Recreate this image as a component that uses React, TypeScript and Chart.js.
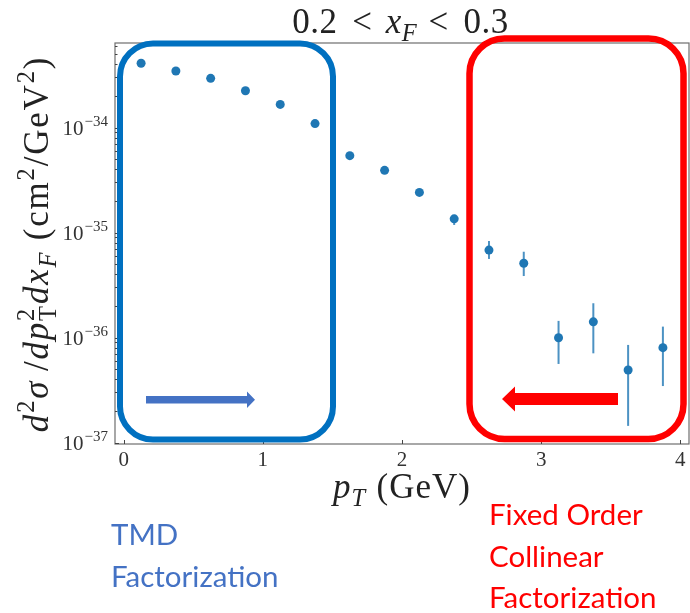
import React, { useEffect, useRef } from "react";
import { Chart, registerables } from "chart.js";

Chart.register(...registerables);

// ---- data ----
const pT = [0.125, 0.375, 0.625, 0.875, 1.125, 1.375, 1.625, 1.875, 2.125, 2.375, 2.625, 2.875, 3.125, 3.375, 3.625, 3.875];
const crossSection = [4.09e-34, 3.45e-34, 2.94e-34, 2.24e-34, 1.66e-34, 1.09e-34, 5.39e-35, 3.91e-35, 2.41e-35, 1.35e-35, 6.8e-36, 5.09e-36, 9.95e-37, 1.41e-36, 4.9e-37, 8.0e-37];
const errLower = [4.02e-34, 3.39e-34, 2.89e-34, 2.2e-34, 1.63e-34, 1.07e-34, 5.25e-35, 3.8e-35, 2.33e-35, 1.18e-35, 5.6e-36, 3.85e-36, 5.6e-37, 7.07e-37, 1.44e-37, 3.45e-37];
const errUpper = [4.16e-34, 3.51e-34, 2.99e-34, 2.28e-34, 1.69e-34, 1.11e-34, 5.53e-35, 4.02e-35, 2.49e-35, 1.47e-35, 8.3e-36, 6.56e-36, 1.44e-36, 2.12e-36, 8.5e-37, 1.27e-36];
const xTickValues = [0, 1, 2, 3, 4];
const yTickExponents = [-34, -35, -36, -37];
const leftLabelLines = ["TMD", "Factorization"];
const rightLabelLines = ["Fixed Order", "Collinear", "Factorization"];

const SERIF = '"Liberation Serif", "DejaVu Serif", serif';
const SANS = 'Lato, "Open Sans", "Noto Sans", sans-serif';
const POINT_COLOR = "#1f77b4";

type Seg = { t: string; it?: boolean; sup?: boolean; sub?: boolean; stack?: boolean; gap?: number };

function segFont(size: number, s: Seg) {
  const sz = s.sup || s.sub ? size * 0.7 : size;
  return `${s.it ? "italic " : ""}${sz}px ${SERIF}`;
}

function segWidth(ctx: CanvasRenderingContext2D, s: Seg, size: number, track: number) {
  if (s.gap) return s.gap * size;
  ctx.font = segFont(size, s);
  let w = 0;
  for (const ch of s.t) w += ctx.measureText(ch).width + track;
  return w;
}

function measureMath(ctx: CanvasRenderingContext2D, segs: Seg[], size: number, track: number) {
  let w = 0;
  let pending = 0;
  for (const s of segs) {
    const sw = segWidth(ctx, s, size, track);
    if (s.stack) {
      pending = sw;
    } else {
      w += Math.max(sw, pending);
      pending = 0;
    }
  }
  return w;
}

function drawMath(ctx: CanvasRenderingContext2D, segs: Seg[], size: number, x: number, y: number, color: string, track = 0) {
  const total = measureMath(ctx, segs, size, track);
  let cx = x - total / 2;
  let pending = 0;
  ctx.fillStyle = color;
  ctx.textBaseline = "alphabetic";
  ctx.textAlign = "left";
  for (const s of segs) {
    const sw = segWidth(ctx, s, size, track);
    if (!s.gap) {
      ctx.font = segFont(size, s);
      let dy = 0;
      if (s.sup) dy = -0.4 * size;
      if (s.sub) dy = 0.22 * size;
      let px = cx;
      for (const ch of s.t) {
        ctx.fillText(ch, px, y + dy);
        px += ctx.measureText(ch).width + track;
      }
    }
    if (s.stack) {
      pending = sw;
    } else {
      cx += Math.max(sw, pending);
      pending = 0;
    }
  }
}

function roundRect(ctx: CanvasRenderingContext2D, x0: number, y0: number, x1: number, y1: number, r: number) {
  ctx.beginPath();
  ctx.moveTo(x0 + r, y0);
  ctx.lineTo(x1 - r, y0);
  ctx.arcTo(x1, y0, x1, y0 + r, r);
  ctx.lineTo(x1, y1 - r);
  ctx.arcTo(x1, y1, x1 - r, y1, r);
  ctx.lineTo(x0 + r, y1);
  ctx.arcTo(x0, y1, x0, y1 - r, r);
  ctx.lineTo(x0, y0 + r);
  ctx.arcTo(x0, y0, x0 + r, y0, r);
  ctx.closePath();
}

function arrow(ctx: CanvasRenderingContext2D, tail: number, base: number, tip: number, cy: number, shaftHalf: number, headHalf: number, color: string) {
  ctx.beginPath();
  ctx.moveTo(tail, cy - shaftHalf);
  ctx.lineTo(base, cy - shaftHalf);
  ctx.lineTo(base, cy - headHalf);
  ctx.lineTo(tip, cy);
  ctx.lineTo(base, cy + headHalf);
  ctx.lineTo(base, cy + shaftHalf);
  ctx.lineTo(tail, cy + shaftHalf);
  ctx.closePath();
  ctx.fillStyle = color;
  ctx.fill();
}

const overlayPlugin = {
  id: "overlay",
  beforeDatasetsDraw(chart: any) {
    const { ctx, scales } = chart;
    const xs = scales.x;
    const ys = scales.y;
    ctx.save();
    ctx.strokeStyle = "rgba(31,119,180,0.8)";
    ctx.lineWidth = 2;
    for (let i = 0; i < pT.length; i++) {
      const px = xs.getPixelForValue(pT[i]);
      ctx.beginPath();
      ctx.moveTo(px, ys.getPixelForValue(errLower[i]));
      ctx.lineTo(px, ys.getPixelForValue(errUpper[i]));
      ctx.stroke();
    }
    ctx.restore();
  },
  afterDraw(chart: any) {
    const { ctx, chartArea, scales } = chart;
    const xs = scales.x;
    const ys = scales.y;
    const { left, right, top, bottom } = chartArea;
    ctx.save();

    // frame
    ctx.strokeStyle = "#6e6e6e";
    ctx.lineWidth = 1.2;
    ctx.strokeRect(left, top, right - left, bottom - top);

    // inward ticks
    ctx.strokeStyle = "#444";
    ctx.lineWidth = 1;
    for (const v of xTickValues) {
      const px = Math.round(xs.getPixelForValue(v)) + 0.5;
      ctx.beginPath();
      ctx.moveTo(px, bottom);
      ctx.lineTo(px, bottom - 4);
      ctx.stroke();
    }
    const ymin = ys.min;
    const ymax = ys.max;
    for (let e = -38; e <= -33; e++) {
      for (let m = 1; m <= 9; m++) {
        const v = m * Math.pow(10, e);
        if (v < ymin || v > ymax) continue;
        const py = Math.round(ys.getPixelForValue(v)) + 0.5;
        ctx.beginPath();
        ctx.moveTo(left, py);
        ctx.lineTo(left + (m === 1 ? 4 : 2.5), py);
        ctx.stroke();
      }
    }

    // y tick labels (10^n)
    ctx.fillStyle = "#333";
    ctx.textBaseline = "alphabetic";
    ctx.textAlign = "left";
    for (const e of yTickExponents) {
      const py = ys.getPixelForValue(Math.pow(10, e));
      const base = `21px ${SERIF}`;
      const expF = `15px ${SERIF}`;
      ctx.font = base;
      const w1 = ctx.measureText("10").width;
      const expText = "\u2212" + String(-e);
      ctx.font = expF;
      const w2 = ctx.measureText(expText).width;
      const x0 = 108 - w1 - w2 - 1;
      ctx.font = base;
      ctx.fillText("10", x0, py + 7);
      ctx.font = expF;
      ctx.fillText(expText, x0 + w1 + 1, py - 2);
    }

    // title
    drawMath(ctx, [
      { t: "0.2" },
      { t: "", gap: 0.42 },
      { t: "<" },
      { t: "", gap: 0.38 },
      { t: "x", it: true },
      { t: "F", it: true, sub: true },
      { t: "", gap: 0.32 },
      { t: "<" },
      { t: "", gap: 0.42 },
      { t: "0.3" },
    ], 35, 400.5, 33, "#222", 0.5);

    // x label
    drawMath(ctx, [
      { t: "p", it: true },
      { t: "T", it: true, sub: true },
      { t: "", gap: 0.3 },
      { t: "(GeV)" },
    ], 35, 402, 498, "#222", 1);

    // y label
    ctx.save();
    ctx.translate(48, 244);
    ctx.rotate(-Math.PI / 2);
    drawMath(ctx, [
      { t: "d", it: true },
      { t: "2", sup: true },
      { t: "\u03c3", it: true },
      { t: "", gap: 0.25 },
      { t: "/" },
      { t: "dp", it: true },
      { t: "2", sup: true, stack: true },
      { t: "T", sub: true },
      { t: "dx", it: true },
      { t: "F", it: true, sub: true },
      { t: "", gap: 0.3 },
      { t: "(cm" },
      { t: "2", sup: true },
      { t: "/GeV" },
      { t: "2", sup: true },
      { t: ")" },
    ], 35, 0, 0, "#222", 1.8);
    ctx.restore();

    // highlight boxes
    ctx.lineWidth = 6;
    ctx.strokeStyle = "#0070c0";
    roundRect(ctx, 120, 43.5, 333, 439.5, 33);
    ctx.stroke();
    ctx.lineWidth = 6.5;
    ctx.strokeStyle = "#ff0000";
    roundRect(ctx, 469.5, 38.5, 683.5, 439, 35);
    ctx.stroke();

    // arrows
    arrow(ctx, 146, 247, 255, 399.7, 3.7, 8.3, "#4472c4");
    arrow(ctx, 618, 515, 502, 399, 6, 12.5, "#ff0000");

    // annotation text
    ctx.font = `29.5px ${SANS}`;
    ctx.textAlign = "left";
    ctx.textBaseline = "alphabetic";
    ctx.fillStyle = "#4472c4";
    ctx.fillText(leftLabelLines[0], 111, 545);
    ctx.fillText(leftLabelLines[1], 111, 587);
    ctx.fillStyle = "#ff0000";
    ctx.fillText(rightLabelLines[0], 489, 525);
    ctx.fillText(rightLabelLines[1], 489, 567);
    ctx.fillText(rightLabelLines[2], 489, 608);

    ctx.restore();
  },
};

export default function App() {
  const ref = useRef<HTMLCanvasElement | null>(null);
  useEffect(() => {
    document.body.style.margin = "0";
    const canvas = ref.current;
    if (!canvas) return;
    const chart = new Chart(canvas, {
      type: "scatter",
      data: {
        datasets: [
          {
            data: pT.map((x, i) => ({ x, y: crossSection[i] })),
            backgroundColor: POINT_COLOR,
            borderWidth: 0,
            pointRadius: 4.5,
          },
        ],
      },
      options: {
        animation: false,
        responsive: false,
        devicePixelRatio: 1,
        layout: { autoPadding: false, padding: { top: 43, right: 1, left: 0, bottom: 0 } },
        plugins: { legend: { display: false }, tooltip: { enabled: false }, title: { display: false } },
        scales: {
          x: {
            type: "linear",
            min: -0.0625,
            max: 4.0625,
            afterBuildTicks: (s: any) => {
              s.ticks = xTickValues.map((v) => ({ value: v }));
            },
            ticks: {
              font: { family: SERIF, size: 21 },
              color: "#333",
              padding: 4,
              maxRotation: 0,
              autoSkip: false,
              callback: (v: any) => String(v),
            },
            grid: { display: false, drawTicks: false },
            border: { display: false },
            afterFit: (s: any) => {
              s.height = 169;
              s.paddingLeft = 0;
              s.paddingRight = 0;
            },
          },
          y: {
            type: "logarithmic",
            min: 0.968e-37,
            max: 6.38e-34,
            afterBuildTicks: (s: any) => {
              s.ticks = yTickExponents.map((e) => ({ value: Math.pow(10, e) }));
            },
            ticks: { display: false },
            grid: { display: false, drawTicks: false },
            border: { display: false },
            afterFit: (s: any) => {
              s.width = 115;
              s.paddingTop = 0;
              s.paddingBottom = 0;
            },
          },
        },
      },
      plugins: [overlayPlugin],
    } as any);
    return () => chart.destroy();
  }, []);
  return <canvas ref={ref} width={690} height={613} style={{ display: "block" }} />;
}
